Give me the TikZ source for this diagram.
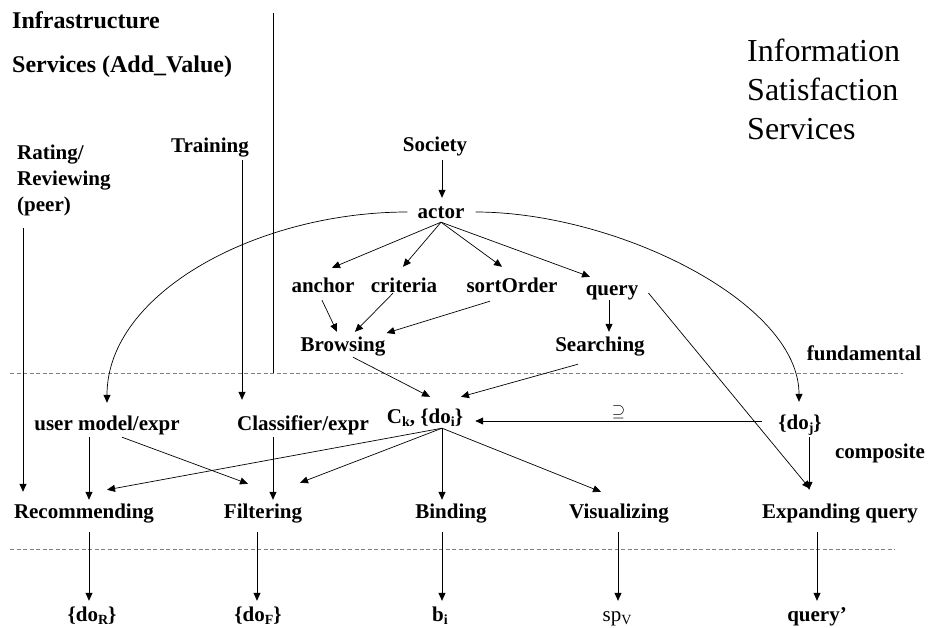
\documentclass[tikz,border=0pt]{standalone}
\usepackage{fontspec}
\setmainfont{Liberation Serif}
\usetikzlibrary{arrows.meta}
\newcommand\lowidx[1]{\raisebox{-3.5pt}{\fontsize{14}{14}\selectfont #1}}

\begin{document}
\begin{tikzpicture}[x=1pt,y=-1pt,
    lbl/.style={font=\fontsize{21}{26}\selectfont\bfseries,inner sep=0pt,text height=14pt,text depth=4pt},
    head/.style={font=\fontsize{24}{30}\selectfont\bfseries,inner sep=0pt,anchor=base west},
    arr/.style={-{Triangle[length=8pt,width=7pt]},line width=0.7pt},
    sep/.style={dash pattern=on 4pt off 2.5pt,gray,line width=0.7pt}]
      \useasboundingbox (0,0) rectangle (928,627);
      \node[head] (infra) at (12,28) {Infrastructure};
      \node[head] (addv) at (12,72) {Services (Add\_Value)};
      \node[font=\fontsize{32}{39}\selectfont,inner sep=0pt,anchor=base west,align=left] (info) at (747,139) {Information\\Satisfaction\\Services};
      \node[font=\fontsize{21}{26}\selectfont\bfseries,inner sep=0pt,anchor=base west,align=left] (rating) at (17,211) {Rating/\\Reviewing\\(peer)};
      \node[lbl] (train) at (210,147) {Training};
      \node[lbl] (soc) at (435,146) {Society};
      \node[lbl] (actor) at (441,213) {actor};
      \node[lbl] (anchor) at (323,287) {anchor};
      \node[lbl] (crit) at (404,287) {criteria};
      \node[lbl] (sort) at (512,287) {sortOrder};
      \node[lbl] (query) at (612,290) {query};
      \node[lbl] (brow) at (343,346) {Browsing};
      \node[lbl] (search) at (600,346) {Searching};
      \node[lbl] (fund) at (864,355) {fundamental};
      \node[lbl] (user) at (107,425) {user model/expr};
      \node[lbl] (cls) at (303,425) {Classifier/expr};
      \node[lbl] (ck) at (425,418) {C\lowidx{k}, \{do\lowidx{i}\}};
      \node[lbl] (doj) at (800,424) {\{do\lowidx{j}\}};
      \node[lbl] (comp) at (880,453) {composite};
      \node[lbl] (rec) at (84,513) {Recommending};
      \node[lbl] (filt) at (263,513) {Filtering};
      \node[lbl] (bind) at (451,513) {Binding};
      \node[lbl] (vis) at (619,513) {Visualizing};
      \node[lbl] (exq) at (840,513) {Expanding query};
      \node[lbl] (dor) at (92,616) {\{do\lowidx{R}\}};
      \node[lbl] (dof) at (258,616) {\{do\lowidx{F}\}};
      \node[lbl] (bi) at (440,616) {b\lowidx{i}};
      \node[lbl,font=\fontsize{21}{26}\selectfont] (spv) at (617,616) {sp\lowidx{V}};
      \node[lbl] (qp) at (817,616) {query'};
      \coordinate (ckfan) at ([xshift=17pt,yshift=-1pt]ck.south);
      \draw[line width=0.7pt] (273,13) -- (273,373);
      \draw[sep] (10,373) -- (903,373);
      \draw[sep] (10,549) -- (895,549);
      \draw[arr] ([xshift=6pt,yshift=-12pt]rating.south west) -- ([xshift=-61pt,yshift=12pt]rec.north);
      \draw[arr] ([xshift=32pt,yshift=-4pt]train.south) -- ([xshift=-61pt,yshift=16pt]cls.north);
      \draw[arr] ([xshift=7pt,yshift=-5pt]soc.south) -- ([xshift=1pt,yshift=6pt]actor.north);
      \draw[arr] (actor.south) -- ([xshift=9pt,yshift=10pt]anchor.north);
      \draw[arr] (actor.south) -- ([xshift=-1pt,yshift=11pt]crit.north);
      \draw[arr] (actor.south) -- ([xshift=-10pt,yshift=11pt]sort.north);
      \draw[arr] (actor.south) -- ([xshift=-22pt,yshift=4pt]query.north);
      \draw[arr] ([xshift=-1pt,yshift=-4pt]anchor.south) -- ([xshift=-6pt,yshift=5pt]brow.north);
      \draw[arr] ([xshift=-11pt,yshift=3pt]crit.south) -- ([xshift=12pt,yshift=5pt]brow.north);
      \draw[arr] ([xshift=-22pt,yshift=-5pt]sort.south) -- ([xshift=1pt,yshift=13pt]brow.east);
      \draw[arr] ([xshift=-3pt,yshift=-1pt]query.south) -- ([xshift=9pt,yshift=5pt]search.north);
      \draw[arr] ([xshift=10pt,yshift=-3pt]query.east) -- ([xshift=-30pt,yshift=15pt]exq.north);
      \draw[arr] ([xshift=-10pt,yshift=1pt]actor.west) .. controls +(-150,0) and +(0,-110) .. ([yshift=13pt]user.north);
      \draw[arr] ([xshift=11pt,yshift=1pt]actor.east) .. controls +(140,0) and +(0,-100) .. ([xshift=-1pt,yshift=13pt]doj.north);
      \draw[arr] ([xshift=10pt,yshift=-2pt]brow.south) -- ([xshift=5pt,yshift=12pt]ck.north);
      \draw[arr] ([xshift=-22pt,yshift=-9pt]search.south) -- ([xshift=36pt,yshift=12pt]ck.north);
      \draw[arr] ([xshift=-16pt,yshift=3pt]doj.west) -- node[above=2pt,inner sep=0pt,font=\fontsize{18}{18}\selectfont] (sup) {$\supseteq$} ([xshift=12pt,yshift=-3pt]ck.east);
      \draw[arr] ([xshift=-18pt,yshift=-3pt]user.south) -- ([xshift=5pt,yshift=4pt]rec.north);
      \draw[arr] ([xshift=15pt,yshift=-3pt]user.south) -- ([xshift=-15pt,yshift=20pt]filt.north);
      \draw[arr] ([xshift=-30pt,yshift=-3pt]cls.south) -- ([xshift=10pt,yshift=4pt]filt.north);
      \draw[arr] (ckfan) -- ([xshift=23pt,yshift=14pt]rec.north);
      \draw[arr] (ckfan) -- ([xshift=37pt,yshift=21pt]filt.north);
      \draw[arr] (ckfan) -- ([xshift=-9pt,yshift=4pt]bind.north);
      \draw[arr] (ckfan) -- ([xshift=-18pt,yshift=12pt]vis.north);
      \draw[arr] ([xshift=9pt,yshift=-4pt]doj.south) -- ([xshift=-31pt,yshift=14pt]exq.north);
      \draw[arr] ([xshift=5pt,yshift=-10pt]rec.south) -- ([xshift=-3pt,yshift=6pt]dor.north);
      \draw[arr] ([xshift=-6pt,yshift=-10pt]filt.south) -- ([xshift=-1pt,yshift=6pt]dof.north);
      \draw[arr] ([xshift=-9pt,yshift=-10pt]bind.south) -- ([xshift=2pt,yshift=6pt]bi.north);
      \draw[arr] ([xshift=-1pt,yshift=-10pt]vis.south) -- ([xshift=1pt,yshift=6pt]spv.north);
      \draw[arr] ([xshift=-23pt,yshift=-10pt]exq.south) -- ([yshift=6pt]qp.north);
    \end{tikzpicture}
\end{document}
